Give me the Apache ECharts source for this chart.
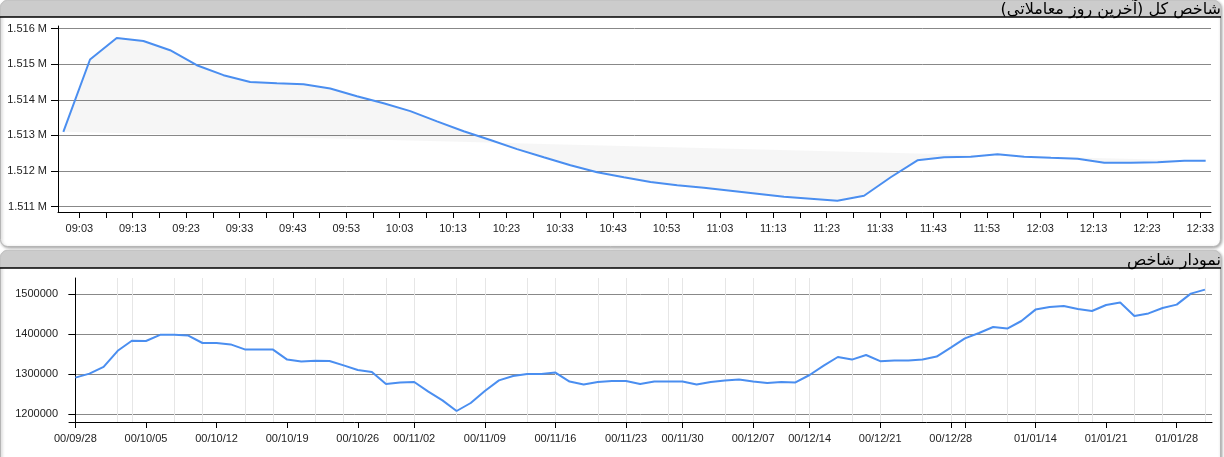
<!DOCTYPE html>
<html><head><meta charset="utf-8">
<script src="https://cdn.jsdelivr.net/npm/echarts@6/dist/echarts.min.js"></script>
<style>html,body{margin:0;padding:0;background:#fff;}#c{width:1224px;height:457px;}</style>
</head><body><div id="c"></div>
<script>
// ---------- data ----------
const topTitle = 'شاخص کل (آخرین روز معاملاتی)';
const bottomTitle = 'نمودار شاخص';

const topTimes = ['09:00','09:05','09:10','09:15','09:20','09:25','09:30','09:35','09:40','09:45',
  '09:50','09:55','10:00','10:05','10:10','10:15','10:20','10:25','10:30','10:35',
  '10:40','10:45','10:50','10:55','11:00','11:05','11:10','11:15','11:20','11:25',
  '11:30','11:35','11:40','11:45','11:50','11:55','12:00','12:05','12:10','12:15',
  '12:20','12:25','12:30','12:34'];
const topValues = [1513100,1515130,1515735,1515650,1515390,1514970,1514690,1514500,1514465,1514435,
  1514315,1514100,1513900,1513680,1513395,1513115,1512870,1512615,1512385,1512160,
  1511965,1511825,1511695,1511600,1511530,1511445,1511360,1511275,1511220,1511165,
  1511305,1511825,1512300,1512385,1512400,1512470,1512400,1512370,1512345,1512230,
  1512230,1512245,1512285,1512285];
const topTimeLabels = ['09:03','09:13','09:23','09:33','09:43','09:53','10:03','10:13','10:23','10:33','10:43',
  '10:53','11:03','11:13','11:23','11:33','11:43','11:53','12:03','12:13','12:23','12:33'];
const topYTicks = [1511000,1512000,1513000,1514000,1515000,1516000];

const indexValues = [1291000,1301000,1318000,1358000,1383000,1382500,1398000,1398000,1396000,1377500,
  1377500,1374000,1361500,1361500,1361000,1336000,1331000,1333000,1332500,1321500,
  1310000,1305000,1275000,1278500,1280000,1256000,1234000,1207500,1227500,1257500,
  1284000,1295000,1300000,1300000,1303500,1281000,1274000,1280000,1282500,1282500,
  1275000,1281500,1281000,1281000,1273500,1280000,1283500,1286500,1281500,1277500,
  1280000,1279000,1297500,1321000,1342500,1336000,1347500,1332000,1334000,1334000,
  1336000,1343500,1366000,1389000,1402500,1417500,1413500,1432500,1461000,1467500,
  1470000,1462500,1457500,1472500,1478500,1445000,1451500,1465000,1473500,1501000,
  1511000];
const dayLabels = ['00/09/28','00/10/05','00/10/12','00/10/19','00/10/26','00/11/02','00/11/09','00/11/16',
  '00/11/23','00/11/30','00/12/07','00/12/14','00/12/21','00/12/28','','01/01/14','01/01/21','01/01/28'];
const dayLabelIdx = [0,5,10,15,20,24,29,34,39,43,48,52,57,62,63,68,73,78];
const weekLines = [0,3,4,7,9,12,14,17,19,22,24,27,29,32,34,37,39,42,43,46,48,51,52,55,57,60,62,63,66,68,71,72,75,77,80];
const bottomYTicks = [1200000,1300000,1400000,1500000];

// ---------- helpers ----------
const toMin = s => { const p = s.split(':').map(Number); return p[0]*60 + p[1]; };
const pad = n => (n < 10 ? '0' : '') + n;
const fmtMin = m => pad(Math.floor(m/60)) + ':' + pad(m % 60);

const topData = topTimes.map((t, i) => [toMin(t), topValues[i]]);
const topLabelVals = topTimeLabels.map(toMin);
const topTickVals = [];
topLabelVals.forEach(m => { topTickVals.push(m); topTickVals.push(m + 5); });
const xMinTop = toMin('08:59'), xMaxTop = toMin('12:35');
const topTickFiltered = topTickVals.filter(v => v <= xMaxTop);

const bottomData = indexValues.map((v, i) => [i, v]);
const bottomLabelIdx = dayLabelIdx.filter((d, i) => dayLabels[i] !== '');

const FONT = '"Liberation Sans", Arial, sans-serif';
const lbl = { fontSize: 11, fontFamily: FONT, color: '#222', margin: 11 };
const blackLine = { show: true, lineStyle: { color: '#000', width: 1 } };
const RLM = '\u200F';
const TITLE_FONT = '16px "DejaVu Sans"';

const chart = echarts.init(document.getElementById('c'), null, { renderer: 'canvas' });
chart.setOption({
  animation: false,
  backgroundColor: '#fff',
  graphic: [
    { type: 'rect', z: -10, shape: { x: 0.5, y: 0.5, width: 1220, height: 246, r: 7 },
      style: { fill: '#fff', stroke: '#b5b5b5', lineWidth: 1, shadowBlur: 3, shadowColor: 'rgba(0,0,0,0.35)', shadowOffsetX: 1, shadowOffsetY: 1 } },
    { type: 'rect', z: -9, shape: { x: 0.5, y: 0.5, width: 1220, height: 16, r: [7,7,0,0] },
      style: { fill: '#cccccc', stroke: '#c4c4c4', lineWidth: 1 } },
    { type: 'line', z: -8, shape: { x1: 0, y1: 17, x2: 1221, y2: 17 }, style: { stroke: '#000', lineWidth: 1.5 } },
    { type: 'text', z: 10, x: 1221, y: 17.5,
      style: { text: RLM + topTitle + RLM, font: TITLE_FONT, fill: '#000', align: 'right', verticalAlign: 'bottom', textAlign: 'right', textVerticalAlign: 'bottom' } },

    { type: 'rect', z: -10, shape: { x: 0.5, y: 250.5, width: 1220, height: 230, r: 7 },
      style: { fill: '#fff', stroke: '#b5b5b5', lineWidth: 1, shadowBlur: 3, shadowColor: 'rgba(0,0,0,0.35)', shadowOffsetX: 1, shadowOffsetY: 1 } },
    { type: 'rect', z: -9, shape: { x: 0.5, y: 250.5, width: 1220, height: 17, r: [7,7,0,0] },
      style: { fill: '#cccccc', stroke: '#c4c4c4', lineWidth: 1 } },
    { type: 'line', z: -8, shape: { x1: 0, y1: 268, x2: 1221, y2: 268 }, style: { stroke: '#000', lineWidth: 1.5 } },
    { type: 'text', z: 10, x: 1221, y: 268.5,
      style: { text: RLM + bottomTitle + RLM, font: TITLE_FONT, fill: '#000', align: 'right', verticalAlign: 'bottom', textAlign: 'right', textVerticalAlign: 'bottom' } }
  ],
  grid: [
    { left: 58, top: 26, width: 1153, height: 186 },
    { left: 69, top: 278, width: 1143, height: 144 }
  ],
  xAxis: [
    { type: 'value', gridIndex: 0, min: xMinTop, max: xMaxTop,
      axisLine: blackLine,
      axisTick: { show: true, customValues: topTickFiltered, length: 6, lineStyle: { color: '#000' } },
      axisLabel: Object.assign({ customValues: topLabelVals, formatter: v => fmtMin(v) }, lbl),
      splitLine: { show: false } },
    { type: 'value', gridIndex: 1, min: -0.45, max: 80.5, position: 'bottom',
      axisLine: blackLine,
      axisTick: { show: true, customValues: dayLabelIdx, length: 6, lineStyle: { color: '#000' } },
      axisLabel: Object.assign({ customValues: bottomLabelIdx,
        formatter: v => { const k = dayLabelIdx.indexOf(Math.round(v)); return k >= 0 ? dayLabels[k] : ''; } }, lbl),
      splitLine: { show: false } },
    { type: 'value', gridIndex: 1, min: -0.45, max: 80.5, position: 'top',
      axisLine: { show: false },
      axisTick: { show: false, customValues: weekLines },
      axisLabel: { show: false },
      splitLine: { show: true, lineStyle: { color: '#e6e6e6', width: 1 } } }
  ],
  yAxis: [
    { type: 'value', gridIndex: 0, min: 1510850, max: 1516070,
      axisLine: blackLine,
      axisTick: { show: true, customValues: topYTicks, length: 7, lineStyle: { color: '#000' } },
      axisLabel: Object.assign({ customValues: topYTicks, formatter: v => (v/1e6).toFixed(3) + ' M' }, lbl),
      splitLine: { show: true, lineStyle: { color: '#888', width: 1 } } },
    { type: 'value', gridIndex: 1, min: 1180000, max: 1540000,
      axisLine: blackLine,
      axisTick: { show: true, customValues: bottomYTicks, length: 7, lineStyle: { color: '#000' } },
      axisLabel: Object.assign({ customValues: bottomYTicks, formatter: v => String(v) }, lbl),
      splitLine: { show: true, lineStyle: { color: '#888', width: 1 } } }
  ],
  series: [
    { type: 'custom', xAxisIndex: 0, yAxisIndex: 0, z: 1, silent: true, clip: true,
      data: topData,
      renderItem: (params, api) => {
        if (params.dataIndex !== 0) return null;
        const pts = topData.map(d => api.coord(d));
        return { type: 'polygon', shape: { points: pts }, style: { fill: 'rgba(0,0,0,0.035)' } };
      } },
    { type: 'line', xAxisIndex: 0, yAxisIndex: 0, z: 3, data: topData, showSymbol: false,
      lineStyle: { color: '#4a8ef0', width: 2 } },
    { type: 'line', xAxisIndex: 1, yAxisIndex: 1, z: 3, data: bottomData, showSymbol: false,
      lineStyle: { color: '#4a8ef0', width: 2 } }
  ]
});
</script></body></html>
